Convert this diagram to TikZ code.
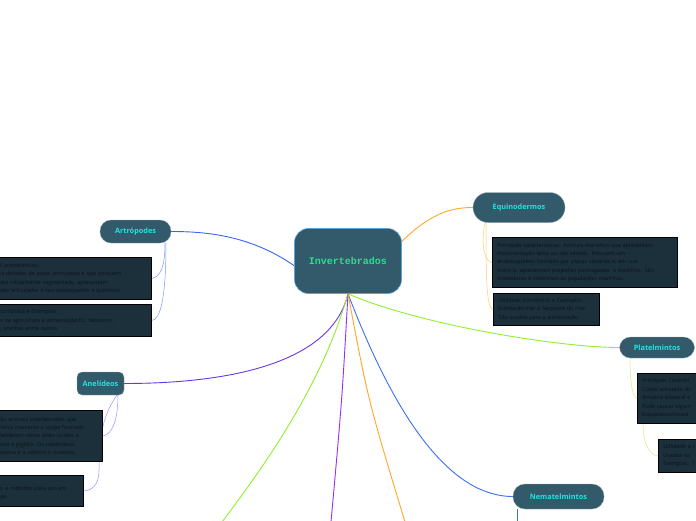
\documentclass[tikz,border=0pt]{standalone}
\usepackage{fontspec}
\setmainfont{Open Sans}
\newfontfamily\codefont{Liberation Mono}
\usetikzlibrary{backgrounds}
\definecolor{topicfill}{HTML}{335A6A}
\definecolor{topicline}{HTML}{8FA3AC}
\definecolor{topictext}{HTML}{1EE5E0}
\definecolor{rootline}{HTML}{5BA3D9}
\definecolor{roottext}{HTML}{25E28F}
\definecolor{notefill}{HTML}{1C303B}
\definecolor{notetext}{HTML}{08121A}
\definecolor{artroline}{HTML}{3B63F5}
\definecolor{artrosub}{HTML}{7B95FF}
\definecolor{anelline}{HTML}{6A35E8}
\definecolor{anelsub}{HTML}{A78BFA}
\definecolor{equiline}{HTML}{FFA726}
\definecolor{equisub}{HTML}{FFC870}
\definecolor{platline}{HTML}{8EF02A}
\definecolor{platsub}{HTML}{C8F080}
\definecolor{nemaline}{HTML}{3D6EF5}
\definecolor{violline}{HTML}{9A2CF5}
\tikzset{
  topic/.style = {rounded corners=11pt, fill=topicfill, draw=topicline, line width=0.3pt,
                  text=topictext, font=\bfseries\fontsize{7.3}{8}\selectfont, inner sep=0pt},
  note/.style  = {anchor=north west, fill=notefill, draw=black, line width=0.8pt, text=notetext,
                  font=\fontsize{5.4}{8.4}\selectfont, align=left, inner xsep=5pt, inner ysep=4pt},
  link/.style  = {line width=0.9pt},
  sublink/.style = {line width=0.5pt}
}
\begin{document}
\begin{tikzpicture}[x=1pt,y=-1pt]
\useasboundingbox (0,0) rectangle (696,520);
\clip (0,0) rectangle (696,520);
% main topic
\node[rounded corners=14pt, fill=topicfill, draw=rootline, line width=0.6pt, text=roottext,
      font=\codefont\bfseries\fontsize{10}{12}\selectfont, minimum width=107pt, minimum height=65pt]
      (inv) at (348,261) {Invertebrados};
% subtopics
\node[topic, minimum width=71pt, minimum height=23pt] (artro) at (135.5,231.5) {Artrópodes};
\node[topic, rounded corners=5pt, minimum width=47pt, minimum height=23pt] (anel) at (100.5,383.5) {Anelídeos};
\node[topic, rounded corners=15pt, minimum width=92pt, minimum height=30pt] (equi) at (519,207.5) {Equinodermos};
\node[topic, minimum width=75pt, minimum height=21pt] (plat) at (657,347.5) {Platelmintos};
\node[topic, rounded corners=12pt, minimum width=91pt, minimum height=25pt] (nema) at (558.5,496.5) {Nematelmintos};
% notes
\node[note, text width=145pt, minimum height=42pt, inner xsep=6pt] (artro1) at (-6,257)
  {Características:\\is dotados de patas articuladas e que possuem\\ato nitidamente segmentado, apresentam\\des articuladas e seu exoesqueleto é quitinoso.};
\node[note, text width=145pt, minimum height=32pt, inner xsep=6pt] (artro2) at (-6,304)
  {conômica e Exemplos:\\s na agricultura e alimentação.Ex: besouros,\\, aranhas entre outros.};
\node[note, text width=96pt, minimum height=51pt, inner xsep=6pt] (anel1) at (-6,410)
  {ão animais invertebrados que\\ística marcante o corpo formado\\lembram vários anéis unidos e\\nco e pigídio. Os metâmeros\\eloma e a celoma o sustenta.};
\node[note, text width=77pt, minimum height=31pt, inner xsep=6pt] (anel2) at (-6,475)
  {\mbox{}\\o e métodos para uso em\\ga.};
\node[note, text width=175pt, minimum height=50pt] (equi1) at (492,237)
  {Principais características: Animais marinhos que apresentam\\movimentação lenta ou são sésseis. Possuem um\\endoesqueleto formado por placas calcárias e, em sua\\maioria, apresentam projeções pontiagudas\ \ e espinhos. São\\predadores e controlam as populações marinhas.};
\node[note, text width=96pt, minimum height=32pt] (equi2) at (493,293)
  {Utilidade Econômica e Exemplos:\\Estrela-do-mar e Serpente do mar\\São usados para a alimentação.};
\node[note, text width=58pt, minimum height=50pt] (plat1) at (637,373)
  {Principais Caracter\\Corpo achatado do\\Simetria bilateral e\\Pode causar algum\\Esquistossomosse};
\node[note, text width=42pt, minimum height=33pt] (plat2) at (658,439)
  {Utilidade e c\\Usados na\\Exemplos: T};
% free ends at the bottom edge
\coordinate (endlime) at (222,522);
\coordinate (endviol) at (331,522);
\coordinate (endorng) at (405,522);
\coordinate (endnema) at (517,522);
% connectors
\begin{scope}[on background layer]
\draw[link, artroline] (inv.185) .. controls (250,235) and (205,231.5) .. (artro.east);
\draw[link, anelline] (inv.south) .. controls (330,370) and (210,383.5) .. (anel.east);
\draw[link, equiline] (inv.20) .. controls (430,214) and (450,207.5) .. (equi.west);
\draw[link, platline] (inv.south) .. controls (420,325) and (560,347.5) .. (plat.west);
\draw[link, nemaline] (inv.south) .. controls (400,430) and (455,496.5) .. (nema.west);
\draw[link, platline] (inv.south) .. controls (322,385) and (265,465) .. (endlime);
\draw[link, violline] (inv.south) .. controls (342,400) .. (endviol);
\draw[link, equiline] (inv.south) .. controls (368,400) .. (endorng);
\draw[sublink, artrosub] (165,243) .. controls (165,268) and (160,277) .. (artro1.east);
\draw[sublink, artrosub] (166,243) .. controls (166,300) and (160,320) .. (artro2.east);
\draw[sublink, anelsub] (118,395) .. controls (118,425) and (110,435) .. (anel1.east);
\draw[sublink, anelsub] (117,395) .. controls (99,420) and (99,450) .. (99,470)
                                  .. controls (99,485) and (92,490.5) .. (anel2.east);
\draw[sublink, equisub] (485,222) .. controls (480,250) and (486,262) .. (equi1.west);
\draw[sublink, equisub] (486,222) .. controls (486,270) and (486,309) .. (equi2.west);
\draw[sublink, platsub] (630,358) .. controls (630,385) and (633,398) .. (plat1.west);
\draw[sublink, platsub] (643,423) .. controls (643,445) and (650,455.5) .. (plat2.west);
\draw[sublink, nemaline] (517,509) -- (endnema);
\end{scope}
\end{tikzpicture}
\end{document}
